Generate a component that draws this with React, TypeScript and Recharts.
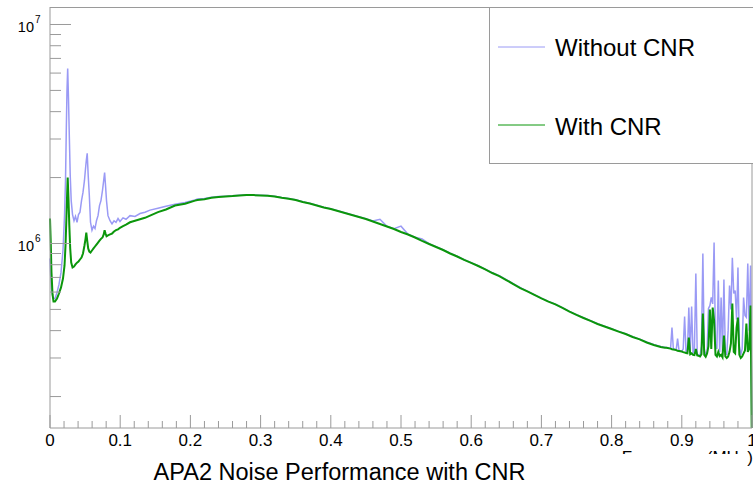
import React from 'react';
import { LineChart, Line, XAxis, YAxis } from 'recharts';

// frequency bins (MHz)
const freq = [
  0, 0.001, 0.0021, 0.0036, 0.005, 0.0071, 0.01, 0.0128, 0.0157, 0.0185,
  0.0207, 0.0221, 0.0232, 0.0242, 0.0252, 0.0264, 0.0275, 0.0288, 0.0302, 0.0321,
  0.0342, 0.0363, 0.0385, 0.0406, 0.0427, 0.0449, 0.047, 0.0491, 0.0506, 0.0517,
  0.053, 0.0544, 0.056, 0.0577, 0.0598, 0.062, 0.0641, 0.0662, 0.0684, 0.0705,
  0.0726, 0.0748, 0.0765, 0.0778, 0.0791, 0.0805, 0.0826, 0.0855, 0.0883, 0.0912,
  0.094, 0.0969, 0.0997, 0.104, 0.1083, 0.114, 0.1211, 0.1282, 0.1353, 0.1425,
  0.1538, 0.1652, 0.1781, 0.1923, 0.2066,
  0.21, 0.22, 0.23, 0.24, 0.25, 0.26, 0.27, 0.28, 0.29, 0.3,
  0.31, 0.32, 0.33, 0.34, 0.35, 0.36, 0.37, 0.38, 0.39, 0.4,
  0.41, 0.42, 0.43, 0.44, 0.45, 0.46, 0.47, 0.48, 0.49, 0.5,
  0.51, 0.52, 0.53, 0.54, 0.55, 0.56, 0.57, 0.58, 0.59, 0.6,
  0.61, 0.62, 0.63, 0.64, 0.65, 0.66, 0.67, 0.68, 0.69, 0.7,
  0.71, 0.72, 0.73, 0.74, 0.75, 0.76, 0.77, 0.78, 0.79, 0.8,
  0.81, 0.82, 0.83, 0.84, 0.85, 0.86,
  0.87, 0.872, 0.874, 0.876, 0.878, 0.88, 0.882, 0.884, 0.886, 0.888,
  0.89, 0.892, 0.894, 0.896, 0.898, 0.9, 0.902, 0.904, 0.906, 0.908,
  0.91, 0.912, 0.914, 0.916, 0.918, 0.92, 0.922, 0.924, 0.926, 0.928,
  0.93, 0.932, 0.934, 0.936, 0.938, 0.94, 0.942, 0.944, 0.946, 0.948,
  0.95, 0.952, 0.954, 0.956, 0.958, 0.96, 0.962, 0.964, 0.966, 0.968,
  0.97, 0.972, 0.974, 0.976, 0.978, 0.98, 0.982, 0.984, 0.986, 0.988,
  0.99, 0.992, 0.994, 0.996, 0.998, 1.0,
];

const withoutCnr = [
  8.55e5, 7.15e5, 6.24e5, 5.8e5, 5.61e5, 5.61e5, 5.97e5, 6.5e5, 7.38e5, 9.29e5,
  1.34e6, 1.94e6, 3.28e6, 5.0e6, 6.3e6, 4.5e6, 3.11e6, 2.05e6, 1.57e6, 1.355e6,
  1.27e6, 1.33e6, 1.25e6, 1.355e6, 1.39e6, 1.57e6, 1.71e6, 1.94e6, 2.2e6, 2.39e6,
  2.58e6, 2.05e6, 1.66e6, 1.25e6, 1.15e6, 1.2e6, 1.17e6, 1.27e6, 1.34e6, 1.49e6,
  1.57e6, 1.75e6, 1.94e6, 2.11e6, 1.84e6, 1.57e6, 1.34e6, 1.27e6, 1.23e6, 1.27e6,
  1.25e6, 1.3e6, 1.26e6, 1.31e6, 1.29e6, 1.34e6, 1.33e6, 1.37e6, 1.39e6, 1.42e6,
  1.45e6, 1.48e6, 1.51e6, 1.54e6, 1.58e6,
  1.595e6, 1.605e6, 1.628e6, 1.64e6, 1.645e6, 1.652e6, 1.66e6, 1.668e6, 1.666e6, 1.66e6,
  1.655e6, 1.642e6, 1.62e6, 1.606e6, 1.583e6, 1.551e6, 1.527e6, 1.494e6, 1.463e6, 1.441e6,
  1.41e6, 1.381e6, 1.354e6, 1.324e6, 1.297e6, 1.266e6, 1.29e6, 1.199e6, 1.168e6, 1.2e6,
  1.102e6, 1.068e6, 1.05e6, 9.98e5, 9.67e5, 9.36e5, 9.03e5, 8.74e5, 8.43e5, 8.17e5,
  7.91e5, 7.63e5, 7.35e5, 7.12e5, 6.83e5, 6.55e5, 6.28e5, 6.06e5, 5.84e5, 5.63e5,
  5.44e5, 5.28e5, 5.09e5, 4.9e5, 4.73e5, 4.58e5, 4.44e5, 4.3e5, 4.19e5, 4.08e5,
  3.97e5, 3.87e5, 3.75e5, 3.66e5, 3.55e5, 3.46e5,
  3.39e5, 3.38e5, 3.36e5, 3.36e5, 3.35e5, 3.34e5, 3.33e5, 3.32e5, 4.13e5, 3.3e5,
  3.29e5, 3.27e5, 3.68e5, 3.25e5, 3.23e5, 3.22e5, 3.3e5, 4.64e5, 3.22e5, 3.18e5,
  5.1e5, 3.2e5, 5.16e5, 3.14e5, 3.3e5, 7.3e5, 3.12e5, 3.1e5, 3.08e5, 3.4e5,
  9.0e5, 3.3e5, 3.1e5, 3.2e5, 5.05e5, 5.2e5, 5.67e5, 5.3e5, 1.01e6, 3.4e5,
  3.3e5, 6.78e5, 3.2e5, 5.67e5, 3.15e5, 6.85e5, 3.2e5, 3.1e5, 4.0e5, 6.43e5,
  5.0e5, 8.6e5, 5.91e5, 6.1e5, 4.5e5, 7.77e5, 3.4e5, 3.1e5, 3.3e5, 5.67e5,
  4.69e5, 4.6e5, 8.1e5, 4.0e5, 7.93e5, 1.0e5,
];

const withCnr = [
  1.3e6, 1.03e6, 7.38e5, 5.85e5, 5.43e5, 5.43e5, 5.61e5, 5.91e5, 6.3e5, 6.92e5,
  7.94e5, 9.79e5, 1.25e6, 1.6e6, 2.0e6, 1.57e6, 1.21e6, 9.49e5, 8.18e5, 7.77e5,
  7.85e5, 8.02e5, 8.18e5, 8.28e5, 8.45e5, 8.63e5, 9.0e5, 9.79e5, 1.05e6, 1.12e6,
  1.03e6, 9.49e5, 9.19e5, 9.1e5, 9.29e5, 9.49e5, 9.69e5, 9.89e5, 1.01e6, 1.03e6,
  1.05e6, 1.065e6, 1.1e6, 1.15e6, 1.11e6, 1.08e6, 1.09e6, 1.1e6, 1.11e6, 1.135e6,
  1.15e6, 1.16e6, 1.18e6, 1.2e6, 1.22e6, 1.25e6, 1.27e6, 1.29e6, 1.31e6, 1.34e6,
  1.39e6, 1.43e6, 1.49e6, 1.52e6, 1.57e6,
  1.58e6, 1.594e6, 1.619e6, 1.631e6, 1.639e6, 1.646e6, 1.657e6, 1.665e6, 1.663e6, 1.657e6,
  1.651e6, 1.639e6, 1.617e6, 1.602e6, 1.58e6, 1.547e6, 1.523e6, 1.491e6, 1.46e6, 1.437e6,
  1.407e6, 1.378e6, 1.35e6, 1.321e6, 1.294e6, 1.26e6, 1.228e6, 1.196e6, 1.165e6, 1.128e6,
  1.099e6, 1.065e6, 1.027e6, 9.95e5, 9.64e5, 9.34e5, 9.0e5, 8.72e5, 8.41e5, 8.15e5,
  7.89e5, 7.61e5, 7.33e5, 7.1e5, 6.81e5, 6.53e5, 6.26e5, 6.04e5, 5.82e5, 5.61e5,
  5.43e5, 5.27e5, 5.08e5, 4.89e5, 4.72e5, 4.57e5, 4.43e5, 4.29e5, 4.18e5, 4.07e5,
  3.96e5, 3.86e5, 3.74e5, 3.65e5, 3.53e5, 3.44e5,
  3.37e5, 3.36e5, 3.35e5, 3.34e5, 3.34e5, 3.33e5, 3.32e5, 3.31e5, 3.29e5, 3.28e5,
  3.27e5, 3.26e5, 3.24e5, 3.23e5, 3.22e5, 3.21e5, 3.19e5, 3.18e5, 3.16e5, 3.15e5,
  3.72e5, 3.12e5, 3.15e5, 3.1e5, 3.09e5, 3.3e5, 3.08e5, 3.07e5, 3.05e5, 3.12e5,
  4.79e5, 3.1e5, 3.04e5, 3.15e5, 3.4e5, 4.99e5, 3.3e5, 5.1e5, 4.45e5, 3.1e5,
  3.05e5, 3.2e5, 3.06e5, 3.1e5, 3.02e5, 3.8e5, 3.05e5, 3.0e5, 3.05e5, 3.2e5,
  3.5e5, 5.32e5, 3.2e5, 3.15e5, 4.13e5, 4.59e5, 3.1e5, 3.0e5, 3.05e5, 3.15e5,
  3.25e5, 4.31e5, 3.2e5, 3.3e5, 5.21e5, 1.0e5,
];

const xLabels = ['0', '0.1', '0.2', '0.3', '0.4', '0.5', '0.6', '0.7', '0.8', '0.9', '1'];
const yMajor = [1e6, 1e7];
const yMajorExp = ['6', '7'];
const yMinor = [2e5, 3e5, 4e5, 5e5, 6e5, 7e5, 8e5, 9e5, 2e6, 3e6, 4e6, 5e6, 6e6, 7e6, 8e6, 9e6];

const data = freq.map((f, i) => ({ f, without: withoutCnr[i], with: withCnr[i] }));

const xTicks: number[] = [];
for (let i = 0; i <= 50; i++) xTicks.push(i / 50);
const yTicks = [...yMinor, ...yMajor].sort((a, b) => a - b);

const FONT = '"Liberation Sans", Arial, Helvetica, sans-serif';
const AXIS = '#9a9a9a';
const BLUE = '#9a9af5';
const GREEN = '#0b960b';

const XTick = (props: any) => {
  const { x, y, payload } = props;
  const k = Math.round(payload.value * 50);
  const major = k % 5 === 0;
  return (
    <g>
      <line x1={x} x2={x} y1={y} y2={y - (major ? 13 : 7)} stroke={AXIS} />
      {major && (
        <text x={x} y={y + 18} textAnchor="middle" fontSize={17} fill="#000" fontFamily={FONT}>
          {xLabels[k / 5]}
        </text>
      )}
    </g>
  );
};

const YTick = (props: any) => {
  const { x, y, payload } = props;
  const mi = yMajor.indexOf(payload.value);
  const major = mi >= 0;
  return (
    <g>
      <line x1={x} x2={x + (major ? 21 : 11)} y1={y} y2={y} stroke={AXIS} />
      {major && (
        <g fontFamily={FONT} fill="#000">
          <text x={x - 16} y={y + 7.5} textAnchor="end" fontSize={14.5}>10</text>
          <text x={x - 15} y={y - 1} fontSize={10}>{yMajorExp[mi]}</text>
        </g>
      )}
    </g>
  );
};

export default function App() {
  return (
    <div style={{ position: 'fixed', left: 0, top: 0, width: 753, height: 484, background: '#fff' }}>
      <LineChart width={753} height={484} data={data} margin={{ top: 7, right: 1, bottom: 0, left: 0 }}>
        <XAxis
          dataKey="f"
          type="number"
          domain={[0, 1]}
          ticks={xTicks}
          interval={0}
          tick={<XTick />}
          tickLine={false}
          tickSize={0}
          tickMargin={0}
          height={56}
          axisLine={{ stroke: AXIS }}
        />
        <YAxis
          type="number"
          scale="log"
          domain={[1.437e5, 1.202e7]}
          allowDataOverflow
          ticks={yTicks}
          interval={0}
          tick={<YTick />}
          tickLine={false}
          tickSize={0}
          tickMargin={0}
          width={50}
          axisLine={{ stroke: AXIS }}
        />
        <Line type="linear" dataKey="without" stroke={BLUE} strokeWidth={1.5} dot={false} isAnimationActive={false} />
        <Line type="linear" dataKey="with" stroke={GREEN} strokeWidth={2} dot={false} isAnimationActive={false} />
      </LineChart>
      <svg width={753} height={484} style={{ position: 'absolute', left: 0, top: 0, pointerEvents: 'none' }} fontFamily={FONT}>
        <line x1={50} x2={753} y1={7.5} y2={7.5} stroke={AXIS} />
        <line x1={752} x2={752} y1={7} y2={428} stroke={AXIS} />
        <rect x={489.5} y={7.5} width={300} height={156} fill="#fff" stroke={AXIS} />
        <line x1={498} x2={545} y1={47} y2={47} stroke={BLUE} strokeWidth={1} />
        <text x={555} y={55.5} fontSize={24} fill="#000">Without CNR</text>
        <line x1={498} x2={545} y1={125} y2={125} stroke={GREEN} strokeWidth={1} />
        <text x={555} y={135} fontSize={24} fill="#000">With CNR</text>
        <text x={753} y={463} textAnchor="end" fontSize={17} fill="#000">Frequency (MHz)</text>
        <rect x={0} y={454} width={747} height={30} fill="#fff" />
        <text x={339.5} y={480} textAnchor="middle" fontSize={23.5} fill="#000">APA2 Noise Performance with CNR</text>
      </svg>
    </div>
  );
}
